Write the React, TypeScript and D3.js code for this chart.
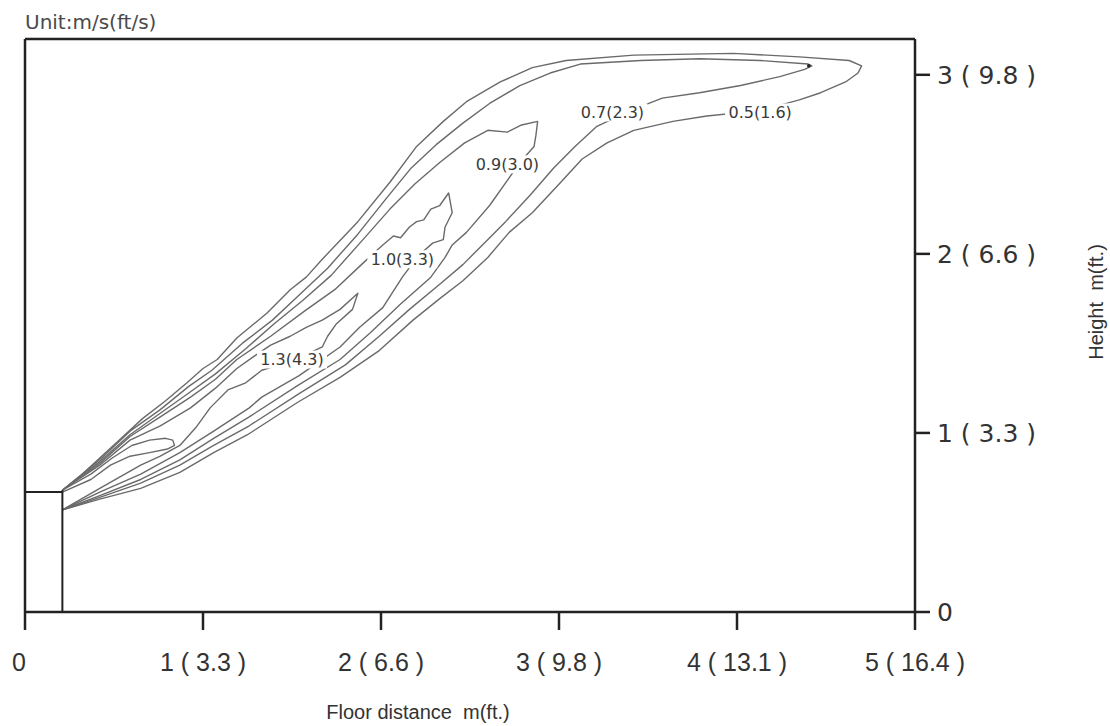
import React from 'react';
import * as d3 from 'd3';

type Pt = [number, number];

// axis ticks (m) and their labels (m (ft))
const xTicks = [0, 1, 2, 3, 4, 5];
const xTickLabels = ['0', '1 ( 3.3 )', '2 ( 6.6 )', '3 ( 9.8 )', '4 ( 13.1 )', '5 ( 16.4 )'];
const yTicks = [0, 1, 2, 3];
const yTickLabels = ['0', '1 ( 3.3 )', '2 ( 6.6 )', '3 ( 9.8 )'];
const xMax = 5;
const yMax = 3.2;

// supply opening at the wall (m)
const inletX = 0.21;
const inletTop = 0.67;
const inletLip = 0.68;

// velocity contours (floor distance m, height m)
const c05: Pt[] = [[0.21,0.68],[0.31,0.76],[0.42,0.86],[0.53,0.96],[0.66,1.08],[0.79,1.18],[0.91,1.28],[1.00,1.36],[1.08,1.41],[1.19,1.53],[1.36,1.67],[1.49,1.80],[1.58,1.87],[1.67,1.97],[1.87,2.18],[2.05,2.40],[2.20,2.60],[2.35,2.74],[2.48,2.85],[2.67,2.96],[2.85,3.04],[3.04,3.08],[3.42,3.11],[3.98,3.12],[4.35,3.10],[4.63,3.08],[4.70,3.05],[4.68,3.01],[4.61,2.96],[4.47,2.90],[4.35,2.86],[4.13,2.80],[3.83,2.77],[3.64,2.74],[3.42,2.69],[3.27,2.62],[3.13,2.53],[3.01,2.40],[2.85,2.23],[2.72,2.12],[2.60,1.98],[2.46,1.85],[2.33,1.75],[2.18,1.63],[1.99,1.46],[1.77,1.31],[1.53,1.17],[1.25,0.99],[1.06,0.89],[0.87,0.78],[0.65,0.69],[0.42,0.63],[0.21,0.57]];
const c07: Pt[] = [[0.21,0.68],[0.42,0.85],[0.59,1.01],[0.76,1.13],[0.92,1.26],[1.05,1.35],[1.22,1.50],[1.39,1.63],[1.53,1.76],[1.70,1.92],[1.87,2.11],[2.03,2.31],[2.17,2.48],[2.31,2.61],[2.46,2.73],[2.61,2.84],[2.78,2.94],[2.95,3.01],[3.12,3.06],[3.46,3.08],[3.79,3.09],[4.13,3.08],[4.40,3.06],[4.42,3.05],[4.38,3.03],[4.24,2.99],[4.02,2.94],[3.79,2.90],[3.58,2.87],[3.40,2.80],[3.21,2.71],[3.09,2.60],[2.97,2.48],[2.84,2.33],[2.70,2.18],[2.57,2.05],[2.46,1.94],[2.33,1.83],[2.16,1.69],[1.99,1.54],[1.80,1.38],[1.54,1.22],[1.26,1.04],[1.06,0.93],[0.87,0.82],[0.65,0.72],[0.42,0.64],[0.21,0.57]];
const c09: Pt[] = [[0.21,0.68],[0.42,0.84],[0.59,0.99],[0.76,1.11],[0.93,1.23],[1.07,1.33],[1.24,1.47],[1.40,1.61],[1.56,1.74],[1.72,1.88],[1.89,2.07],[2.05,2.25],[2.19,2.39],[2.33,2.51],[2.47,2.62],[2.60,2.69],[2.71,2.68],[2.79,2.72],[2.88,2.74],[2.87,2.66],[2.86,2.60],[2.78,2.51],[2.71,2.41],[2.61,2.27],[2.48,2.12],[2.40,2.05],[2.36,1.98],[2.28,1.87],[2.11,1.72],[1.94,1.56],[1.77,1.41],[1.54,1.27],[1.26,1.09],[1.06,0.97],[0.87,0.85],[0.65,0.74],[0.42,0.65],[0.21,0.57]];
const c10: Pt[] = [[0.21,0.68],[0.42,0.83],[0.59,0.98],[0.76,1.09],[0.93,1.20],[1.07,1.30],[1.19,1.41],[1.38,1.54],[1.57,1.68],[1.74,1.80],[1.89,1.94],[2.01,2.05],[2.07,2.10],[2.11,2.09],[2.16,2.15],[2.20,2.18],[2.24,2.19],[2.28,2.25],[2.33,2.27],[2.38,2.34],[2.40,2.23],[2.36,2.15],[2.35,2.08],[2.29,2.06],[2.21,1.99],[2.12,1.87],[2.01,1.70],[1.88,1.59],[1.77,1.48],[1.54,1.32],[1.33,1.20],[1.26,1.14],[1.06,1.01],[0.87,0.89],[0.65,0.77],[0.42,0.67],[0.21,0.57]];
const c13: Pt[] = [[0.21,0.68],[0.42,0.82],[0.59,0.96],[0.76,1.04],[0.93,1.14],[1.07,1.25],[1.19,1.36],[1.29,1.43],[1.38,1.49],[1.49,1.54],[1.58,1.59],[1.67,1.63],[1.77,1.69],[1.87,1.78],[1.84,1.69],[1.75,1.61],[1.70,1.54],[1.67,1.48],[1.52,1.41],[1.33,1.35],[1.24,1.28],[1.14,1.24],[1.04,1.14],[0.96,1.03],[0.87,0.93],[0.76,0.87],[0.65,0.82],[0.42,0.69],[0.21,0.57]];
const cCore: Pt[] = [[0.21,0.68],[0.37,0.77],[0.49,0.86],[0.60,0.93],[0.70,0.96],[0.79,0.97],[0.83,0.96],[0.84,0.93],[0.80,0.91],[0.70,0.89],[0.59,0.87],[0.48,0.82],[0.37,0.74],[0.21,0.67]];

const contours = [c05, c07, c09, c10, c13, cCore];

const contourLabels = [
  { text: '0.5(1.6)', x: 4.13, y: 2.79 },
  { text: '0.7(2.3)', x: 3.30, y: 2.79 },
  { text: '0.9(3.0)', x: 2.71, y: 2.50 },
  { text: '1.0(3.3)', x: 2.12, y: 1.97 },
  { text: '1.3(4.3)', x: 1.50, y: 1.41 },
];

export default function App() {
  const width = 1110;
  const height = 726;
  const margin = { top: 39, right: 195, bottom: 114, left: 25 };

  const x = d3.scaleLinear().domain([0, xMax]).range([margin.left, width - margin.right]);
  const y = d3.scaleLinear().domain([0, yMax]).range([height - margin.bottom, margin.top]);

  const line = d3.line<Pt>().x(d => x(d[0])).y(d => y(d[1]));

  const axisColor = '#222';
  const textColor = '#333';
  const labelW = 70;
  const labelH = 18;

  return (
    <svg width={width} height={height} style={{ position: 'absolute', left: 0, top: 0, background: '#fff' }}>
      <text x={x(0)} y={29} fontFamily="DejaVu Sans" fontSize={20} fill="#4a4a4a">Unit:m/s(ft/s)</text>

      {/* contours */}
      <g fill="none" stroke="#6a6a6a" strokeWidth={1.4} strokeLinejoin="round">
        {contours.map((c, i) => (
          <path key={i} d={line(c) ?? ''} />
        ))}
      </g>
      {/* small marker at the 0.7 tip */}
      <circle cx={x(c07[23][0]) - 3} cy={y(c07[23][1])} r={1.8} fill="#222" />

      {/* inline labels on a white patch that cuts the lines */}
      <g fontFamily="DejaVu Sans" fontSize={16} fill="#3a3a3a" textAnchor="middle">
        {contourLabels.map(l => (
          <g key={l.text} transform={`translate(${x(l.x)},${y(l.y)})`}>
            <rect x={-labelW / 2} y={-labelH / 2} width={labelW} height={labelH} fill="#fff" />
            <text dy="0.35em">{l.text}</text>
          </g>
        ))}
      </g>

      {/* wall opening */}
      <g stroke={axisColor} strokeWidth={2} fill="none">
        <line x1={x(0)} x2={x(inletX)} y1={y(inletTop)} y2={y(inletTop)} />
        <line x1={x(inletX)} x2={x(inletX)} y1={y(0)} y2={y(inletLip)} />
      </g>

      {/* frame */}
      <g stroke={axisColor} strokeWidth={2.5} fill="none">
        <line x1={x(0)} x2={x(xMax)} y1={y(yMax)} y2={y(yMax)} />
        <line x1={x(0)} x2={x(0)} y1={y(yMax)} y2={y(0)} />
        <line x1={x(0)} x2={x(xMax)} y1={y(0)} y2={y(0)} />
        <line x1={x(xMax)} x2={x(xMax)} y1={y(yMax)} y2={y(0)} />
      </g>

      {/* bottom axis */}
      <g>
        {xTicks.map((t, i) => (
          <g key={t} transform={`translate(${x(t)},${y(0)})`}>
            <line y2={18} stroke={axisColor} strokeWidth={2.5} />
            <text x={i === 0 ? -6 : 0} y={50} dy="0.35em" textAnchor="middle" fontFamily="Liberation Sans" fontSize={25} fill={textColor} style={{ whiteSpace: 'pre' }}>{xTickLabels[i]}</text>
          </g>
        ))}
        <text x={418} y={712} dy="0.35em" textAnchor="middle" fontFamily="Liberation Sans" fontSize={20} fill={textColor} style={{ whiteSpace: 'pre' }}>{'Floor distance  m(ft.)'}</text>
      </g>

      {/* right axis */}
      <g>
        {yTicks.map((t, i) => (
          <g key={t} transform={`translate(${x(xMax)},${y(t)})`}>
            <line x2={15} stroke={axisColor} strokeWidth={2.5} />
            <text x={22} dy="0.35em" fontFamily="DejaVu Sans" fontSize={25} fill={textColor} style={{ whiteSpace: 'pre' }}>{yTickLabels[i]}</text>
          </g>
        ))}
        <text transform="translate(1096,302) rotate(-90)" dy="0.35em" textAnchor="middle" fontFamily="Liberation Sans" fontSize={20} fill={textColor} style={{ whiteSpace: 'pre' }}>{'Height  m(ft.)'}</text>
      </g>
    </svg>
  );
}
